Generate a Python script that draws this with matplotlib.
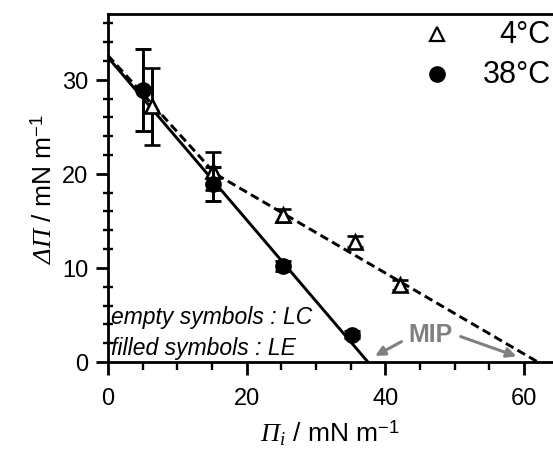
import matplotlib
matplotlib.use("Agg")
import matplotlib.pyplot as plt
from matplotlib.ticker import MultipleLocator

plt.rcParams['font.family'] = ['Liberation Sans', 'DejaVu Sans']
# greek capitals in mathtext are taken from the "rm" font, so make that the italic serif
plt.rcParams['mathtext.fontset'] = 'custom'
plt.rcParams['mathtext.rm'] = 'Liberation Serif:italic'
plt.rcParams['mathtext.it'] = 'Liberation Serif:italic'
plt.rcParams['mathtext.sf'] = 'Liberation Sans'
plt.rcParams['mathtext.bf'] = 'Liberation Sans:bold'

# 4 C, LC phase (empty triangles)
pi_lc = [6.3, 15.2, 25.3, 35.6, 42.1]
dpi_lc = [27.2, 20.3, 15.6, 12.8, 8.2]
err_lc = [4.1, 2.0, 0.7, 0.6, 0.5]

# 38 C, LE phase (filled circles)
pi_le = [5.1, 15.2, 25.3, 35.2]
dpi_le = [28.9, 18.9, 10.2, 2.9]
err_le = [4.4, 1.8, 0.5, 0.4]

# fitted lines
fit_le_x = [0, 37.5]
fit_le_y = [32.4, 0]
fit_lc_x = [0, 15.5, 62.0]
fit_lc_y = [32.6, 20.0, 0]

fig = plt.figure(figsize=(5.53, 4.52), dpi=100)
ax = fig.add_axes([0.195, 0.197, 0.805, 0.770])

ax.plot(fit_le_x, fit_le_y, color='black', lw=2.1)
ax.plot(fit_lc_x, fit_lc_y, color='black', lw=2.1, ls=(0, (3, 1.6)))

ax.errorbar(pi_lc, dpi_lc, yerr=err_lc, fmt='^', ms=10, mfc='white', mec='black',
            mew=1.9, ecolor='black', elinewidth=2.1, capsize=6, capthick=2.1, zorder=3)
ax.errorbar(pi_le, dpi_le, yerr=err_le, fmt='o', ms=11, mfc='black', mec='black',
            ecolor='black', elinewidth=2.1, capsize=6, capthick=2.1, zorder=4)

# legend drawn by hand so labels sit right-aligned
ax.plot([0.74], [0.943], marker='^', ms=10, mfc='white', mec='black', mew=1.6,
        transform=ax.transAxes, clip_on=False)
ax.text(0.995, 0.943, '4°C', transform=ax.transAxes, ha='right', va='center', fontsize=22)
ax.plot([0.74], [0.828], marker='o', ms=11, color='black',
        transform=ax.transAxes, clip_on=False)
ax.text(0.995, 0.828, '38°C', transform=ax.transAxes, ha='right', va='center', fontsize=22)

ax.text(0.5, 4.8, 'empty symbols : LC', style='italic', fontsize=16.5, va='center')
ax.text(0.5, 1.5, 'filled symbols : LE', style='italic', fontsize=16.5, va='center')

ax.text(46.5, 3.0, 'MIP', color='#808080', fontweight='bold', fontsize=18,
        ha='center', va='center')
arrow = dict(arrowstyle='-|>', color='#808080', lw=2.2, mutation_scale=14)
ax.annotate('', xy=(38.2, 0.5), xytext=(42.7, 2.3), arrowprops=arrow)
ax.annotate('', xy=(59.3, 0.5), xytext=(50.5, 2.8), arrowprops=arrow)

ax.set_xlim(0, 64.2)
ax.set_ylim(0, 37)
ax.xaxis.set_major_locator(MultipleLocator(20))
ax.xaxis.set_minor_locator(MultipleLocator(5))
ax.yaxis.set_major_locator(MultipleLocator(10))
ax.yaxis.set_minor_locator(MultipleLocator(2))
ax.tick_params(which='major', direction='out', length=9, width=2, labelsize=17, pad=5)
ax.tick_params(axis='x', which='major', pad=9)
ax.tick_params(which='minor', direction='inout', length=7, width=1.7)
ax.tick_params(axis='x', which='minor', direction='out', length=6)
for s in ['left', 'top', 'bottom']:
    ax.spines[s].set_linewidth(2)
ax.spines['right'].set_visible(False)

ax.set_xlabel(r'$\Pi_i$ / mN m$^{\mathsf{-1}}$', fontsize=19, labelpad=6)
ax.set_ylabel(r'$\Delta\Pi$ / mN m$^{\mathsf{-1}}$', fontsize=19, labelpad=4)

fig.savefig('out.png', dpi=100)
